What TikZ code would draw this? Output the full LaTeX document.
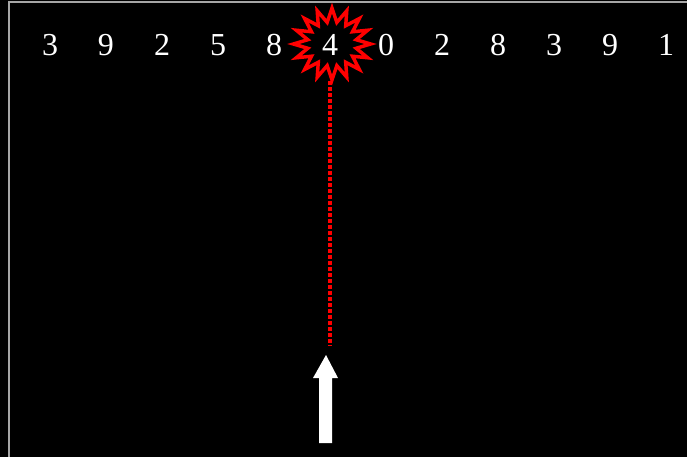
\documentclass[tikz,border=0pt]{standalone}
\usepackage{fontspec}
\setmainfont{Liberation Serif}
\usetikzlibrary{shapes.symbols}

\begin{document}
\begin{tikzpicture}[x=0.75pt, y=-0.75pt,
  digit/.style={text=white,inner sep=0pt,font=\fontsize{24}{28}\selectfont},
  burst/.style={starburst,draw=red,line width=2.6pt,starburst points=16,
    starburst point height=10.5pt,random starburst=0,minimum width=58pt,minimum height=54pt},
  redline/.style={red,line width=2.6pt,dash pattern=on 2.3pt off 2.2pt},
  upblock/.style={fill=white,draw=none}]
  \fill[black] (0,0) rectangle (687,457);
  \useasboundingbox (0,0) rectangle (687,457);
  \draw[gray!70,line width=1.5pt] (9,460) |- (690,2);
  % digits
  \foreach \v [count=\i] in {3,9,2,5,8,4,0,2,8,3,9,1} {
    \node[digit] (d\i) at (56*\i-6,45) {\v};
  }
  \node[burst] (star) at (332,44) {};
  % arrow from below
  \coordinate (tip) at (326,355);
  \coordinate (gap) at (330,346);
  \fill[upblock] (tip) -- (338,378) -- (332,378) -- (332,443) -- (319,443)
    -- (319,378) -- (313,378) -- cycle;
  \draw[redline] (star.south) ++(-2,-4) -- (gap);
\end{tikzpicture}
\end{document}
